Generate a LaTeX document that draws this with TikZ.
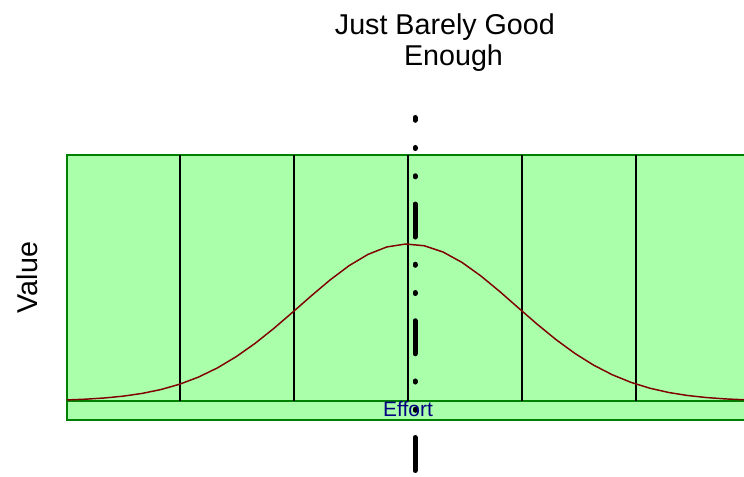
\documentclass[tikz,border=0pt]{standalone}
\usepackage{fontspec}
\setmainfont{Liberation Sans}
\usepackage{tikz}
\usetikzlibrary{positioning, calc}
\definecolor{area_green}{RGB}{170, 255, 170}
\definecolor{edge_green}{RGB}{0, 128, 0}
\definecolor{curve_red}{RGB}{128, 0, 0}
\definecolor{label_navy}{RGB}{0, 0, 128}

\begin{document}
\begin{tikzpicture}[
        x=0.75pt, y=-0.75pt,
        font=\fontsize{21.5}{23.5}\selectfont,
        every node/.style={inner sep=0pt}
    ]
        \useasboundingbox (0, 0) rectangle (744, 477);

        % -------- Area --------
        % one pixel of the image -> one unit, y grows downward
        % band from x = 67 to the right edge, y = 155 (top) to 420 (bottom)
        \fill[area_green] (67, 155) rectangle (760, 420);
        \draw[edge_green, line width=1.5pt] (67, 401) -- (760, 401);
        \draw[edge_green, line width=1.5pt] (760, 155) -- (67, 155) -- (67, 420) -- (760, 420);

        % Vertical dividers (every 114 px)
        \foreach \x in {180, 294, 408, 522, 636}{
            \draw[black, line width=1.1pt] (\x, 155) -- (\x, 401);
        }

        % -------- Curve --------
        % bell centred at 408, sigma ~ 108 px, height 157 px
        \draw[curve_red, line width=1.1pt]
            plot[domain=67:744, samples=37] (\x, {401 - 157*exp(-0.5*((\x-408)/108)^2)});

        % -------- Cut line --------
        \coordinate (cut_bottom) at (415, 470.5);
        \coordinate (cut_top) at (415, 117.5);
        \draw[black, line width=3.75pt, line cap=round,
              dash pattern=on 24.75pt off 20.4pt on 0.8pt off 20.4pt on 0.8pt off 20.4pt]
            (cut_bottom) -- (cut_top);

        % -------- Labels --------
        \node[anchor=north, align=center] (title_label) at (453.5, 13) {Just Barely Good\kern0.6em\\Enough};
        \node[rotate=90, anchor=base] (value_label) at (37, 277.5) {Value};
        \node[anchor=base, text=label_navy, font=\fontsize{15.7}{18}\selectfont] (effort_label) at (408, 417) {Effort};

    \end{tikzpicture}
\end{document}
